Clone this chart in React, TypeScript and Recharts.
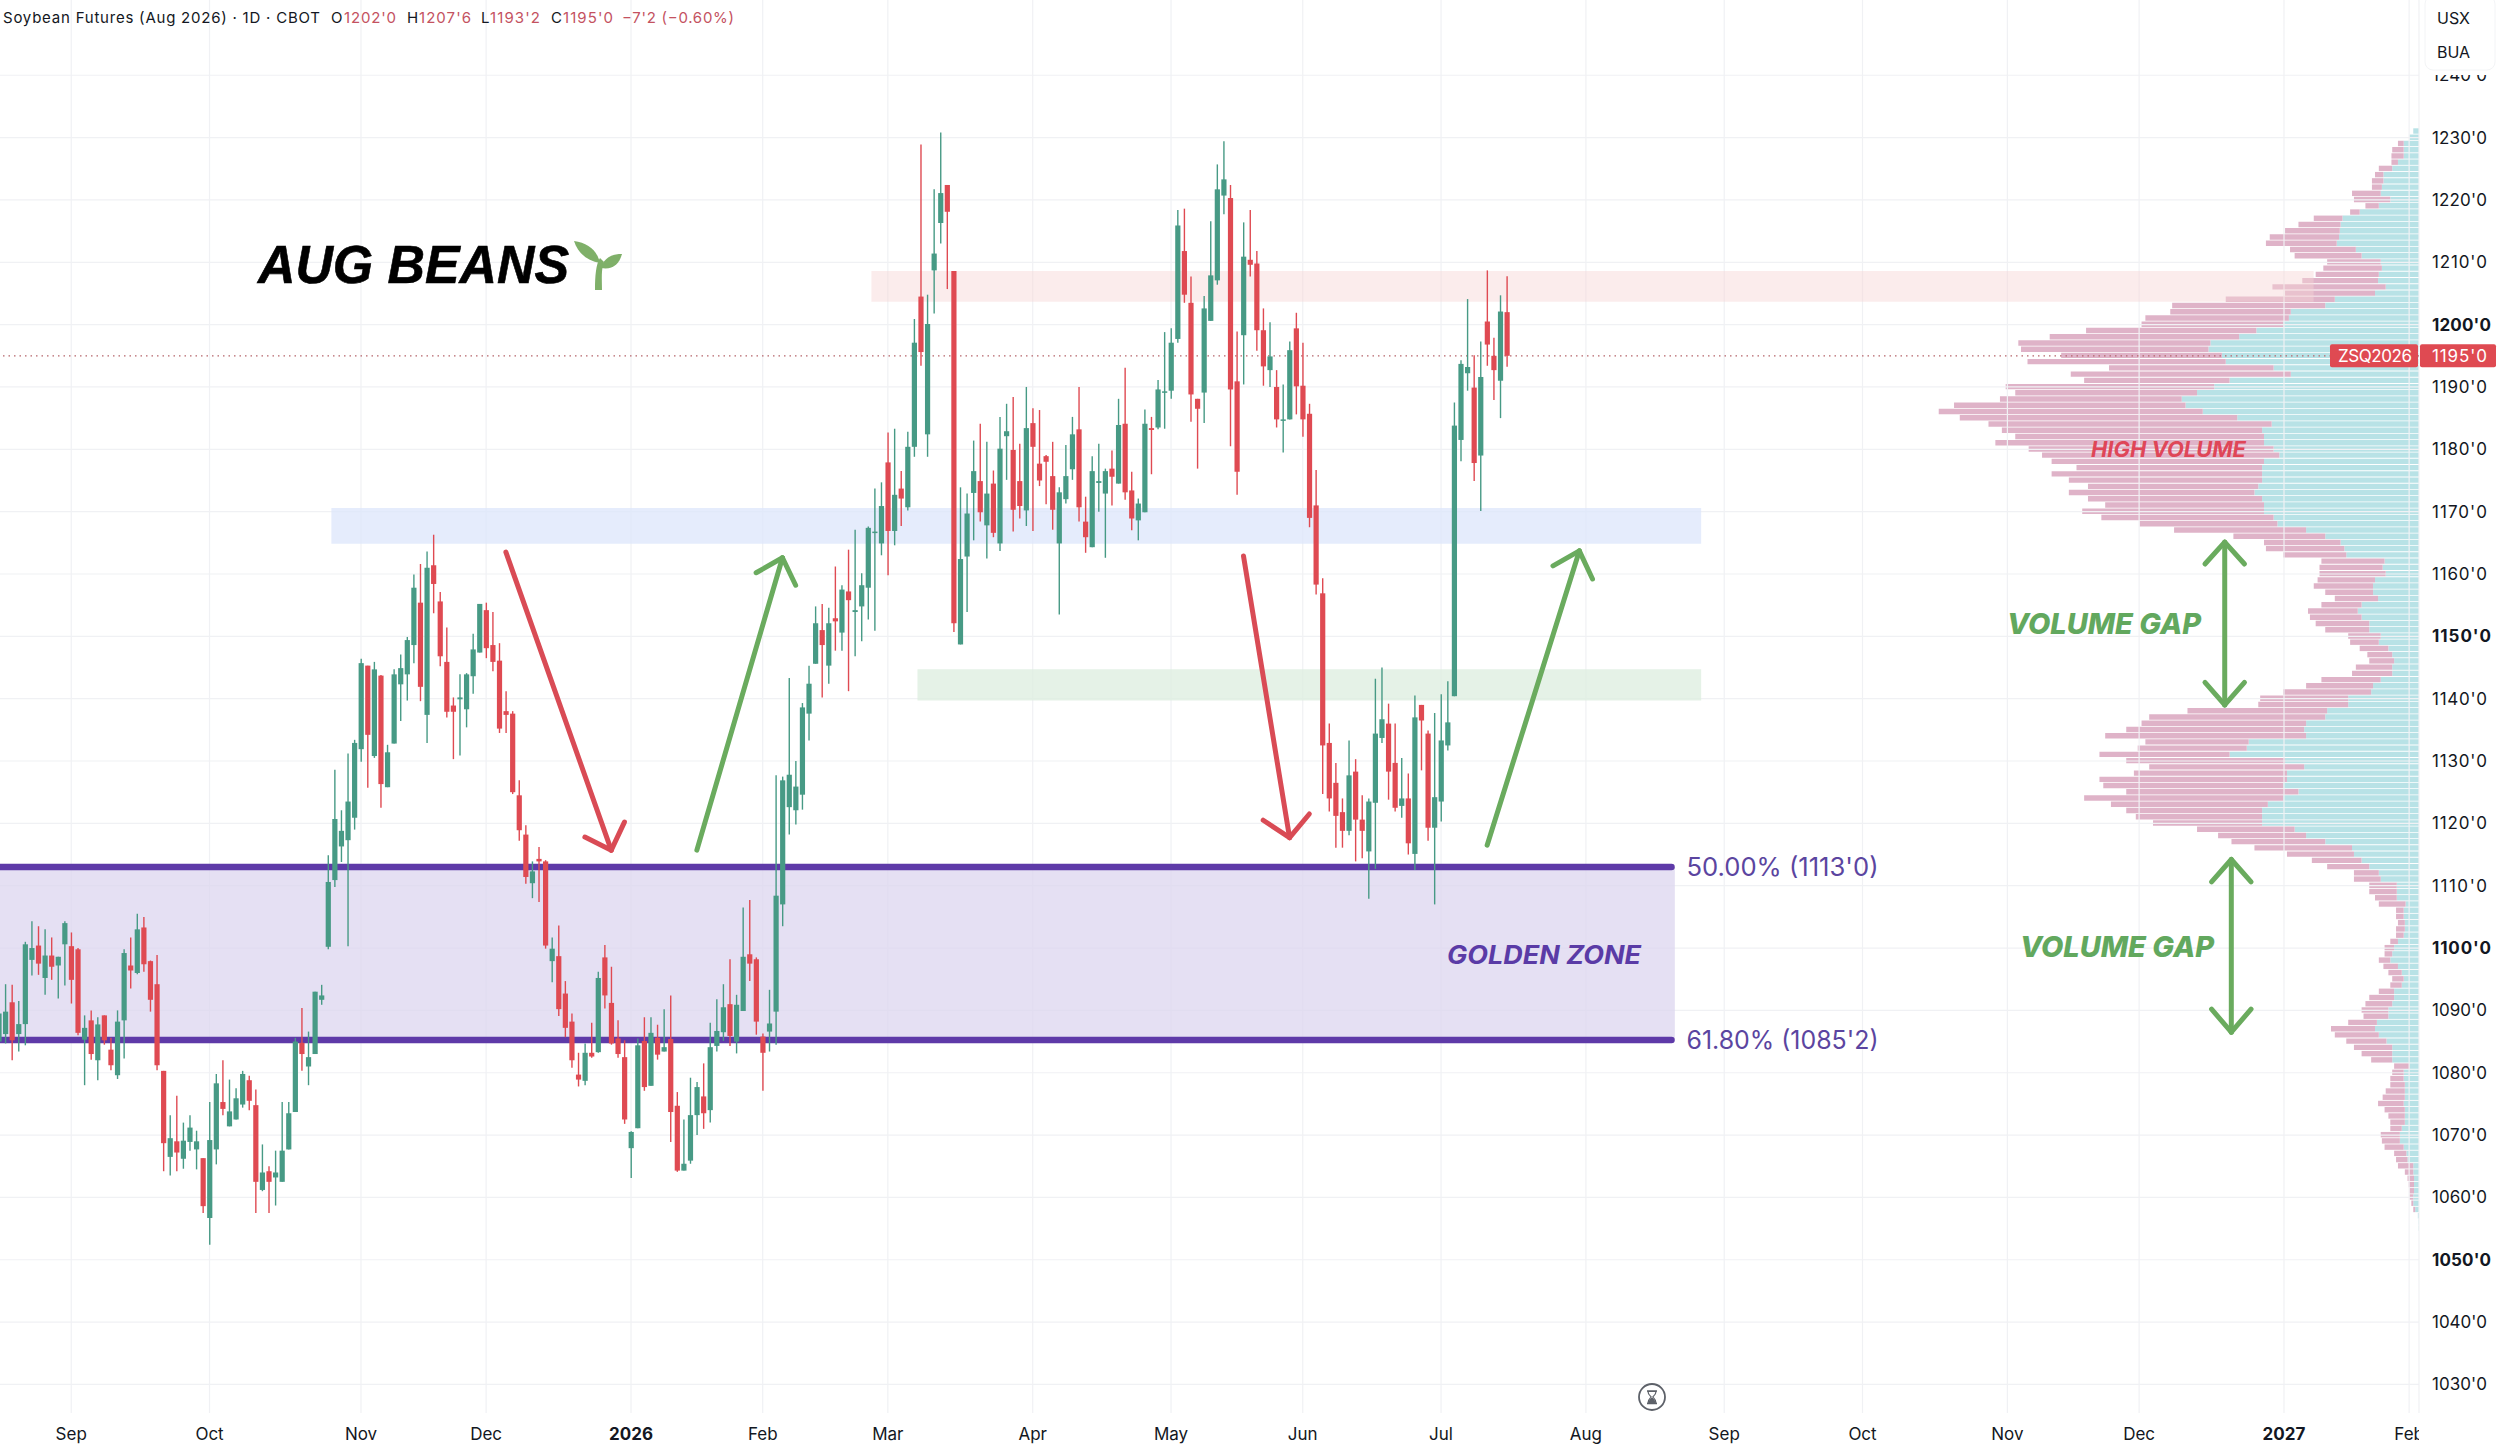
import React from 'react';
import { ComposedChart, Bar, XAxis, YAxis, CartesianGrid, ReferenceLine, ReferenceArea } from 'recharts';

const W = 2500, H = 1446;
const UP = '#479A85', DOWN = '#DF4A52', PURPLE = '#5E3AA8', ARROW_G = '#6AAB5E', ARROW_R = '#D94B55';
const FONT = 'Inter, "Liberation Sans", sans-serif';

const opens = [
1085,1086.2,1091.3,1086.2,1087.8,1098.1,1100.4,1095.2,1098.8,1097.2,
1100.6,1100.3,1099.8,1085.3,1088.4,1082,1089.2,1083.7,1079.6,1088.4,
1097.2,1096,1103.3,1097.9,1094.2,1080.3,1066.5,1069,1066.2,1068.9,
1067.7,1066.3,1056.7,1067.7,1075.3,1071.4,1072.5,1074.9,1078.8,1074.8,
1061.2,1064.2,1063.2,1062.5,1067.7,1073.7,1084.8,1081,1083,1091.7,
1100.2,1110.9,1116.3,1117.3,1120.9,1131.9,1145.3,1130.8,1143.7,1125.8,
1132.8,1142.3,1143.9,1148.6,1155.4,1137.4,1161.4,1155.6,1145.9,1138.9,
1139.9,1138.3,1143.6,1147.4,1154.2,1148.6,1146.1,1138,1137.6,1124.5,
1118.2,1110.4,1114.3,1113.9,1097.9,1098.7,1092.7,1088.2,1079.7,1078.7,
1083.2,1083.3,1098.5,1091.2,1085.5,1082.5,1067.9,1071.1,1085.1,1077.9,
1085.6,1083.4,1085.4,1074.7,1064.3,1065.9,1073.2,1076.2,1074,1084.3,
1086.5,1091,1085,1089.9,1099,1098.2,1085.8,1086.6,1089.8,1107,
1122.6,1122.1,1124.6,1137.6,1145.6,1151,1145.3,1152.9,1150.6,1157.2,
1153.9,1154.8,1157.8,1166.6,1164.9,1177.9,1166.9,1173.7,1170.7,1180.4,
1204.5,1182.4,1208.7,1216.3,1222.4,1208.6,1148.7,1162.8,1173,1174.9,
1167.8,1174.5,1164.9,1182.1,1179.9,1174.9,1170.2,1184.2,1177.7,1178.9,
1175.7,1164.9,1172,1176.8,1183.2,1168.4,1164.3,1174.6,1172.9,1176.9,
1174.5,1184.1,1173.4,1168.6,1169.9,1183.4,1183.5,1189.1,1189.4,1197.7,
1211.8,1203.5,1188.1,1189.1,1200.6,1207.1,1220.7,1220.3,1190.9,1198.3,
1210.4,1209.8,1199.1,1192.7,1190,1184.6,1184.8,1199.4,1190.2,1185.7,
1171,1156.9,1132.9,1126.5,1121.8,1118.8,1128.3,1120.6,1115.5,1123.3,
1133.7,1136,1129.7,1122.8,1124,1115.1,1139,1134.4,1119.3,1123.5,
1132.5,1140.4,1181.5,1192.2,1189.9,1179,1200.5,1195,1191,1202];
const highs = [
1090,1094.2,1094.1,1091.5,1101,1104.3,1103.5,1103,1101.7,1098.6,
1104.3,1102.5,1100,1089.2,1090,1088.9,1089.2,1085.6,1090,1099.8,
1101.7,1105.5,1105,1098,1098.9,1080.3,1073.2,1076.3,1072,1073.2,
1070.7,1066.3,1075.3,1079.8,1082,1078.9,1077.5,1080.3,1079.5,1077.3,
1068.5,1065,1067.5,1075.3,1075.3,1085.6,1090.4,1086.6,1093,1094.1,
1114.9,1128.6,1122.1,1131.2,1133.4,1146.4,1145.3,1145.9,1143.8,1132.6,
1144.7,1147.1,1149.9,1159.9,1161.6,1163.6,1166.3,1157.1,1151.4,1140.2,
1143.9,1144.1,1150.4,1155.2,1155.4,1153.9,1148.9,1141.2,1138,1126.9,
1119.7,1113.9,1116.2,1114.1,1101.7,1103.6,1094.7,1089.5,1083.2,1084.7,
1088,1096.2,1100.5,1097,1088.4,1085.2,1070.6,1085.5,1088.9,1088.9,
1087.7,1090.2,1092.4,1076.9,1072.5,1079.2,1078.5,1081.5,1088,1091.8,
1094.2,1098.2,1092.5,1106.5,1107.7,1098.5,1086.3,1093.3,1127.7,1127.5,
1143.3,1130,1139.3,1145.3,1154.8,1155.2,1154.6,1161.2,1158.2,1163.9,
1167.1,1160.1,1167.6,1173.7,1174.7,1182.7,1183.3,1176.5,1182.8,1200.9,
1228.9,1204.8,1221.7,1230.8,1222.4,1208.6,1173.9,1172.9,1181.4,1184.1,
1181.2,1176.6,1185.2,1187.3,1188.4,1180.9,1190,1186.6,1186.3,1179.1,
1181.2,1173.9,1180.7,1185.2,1190,1172.4,1178.9,1180.9,1176.9,1179.8,
1188.1,1193.1,1176.4,1172.1,1186.4,1185.2,1191.1,1198.8,1199.4,1218.4,
1218.6,1207.7,1188.1,1204.6,1216.6,1225.7,1229.4,1222.4,1198.9,1216.4,
1218.4,1211.8,1202.6,1200.4,1192.7,1190.4,1197.3,1201.9,1197.1,1187.3,
1176.7,1159.3,1136,1129.7,1124,1133.3,1130.3,1124.5,1124,1143.2,
1145,1139.2,1136,1130.5,1128,1140.5,1139,1134.9,1137.7,1140.7,
1142.8,1187.5,1194.3,1204.1,1195.1,1197.3,1208.7,1197.9,1204.7,1207.75];
const lows = [
1082,1084.7,1082,1083.4,1084.4,1095.6,1095.7,1092.5,1094.9,1091.9,
1094,1091.1,1086,1078,1082.1,1078.8,1084.5,1080.4,1079,1082.3,
1093.5,1095.8,1096.2,1089.8,1080.4,1064.2,1063.5,1064.2,1064.6,1067.5,
1064.5,1057.5,1052.4,1065.3,1073.2,1071.4,1072.5,1074.4,1074,1057.5,
1061,1057.5,1058.7,1062.5,1067.7,1073.7,1080.3,1078,1083,1090.9,
1099.8,1109.8,1113.8,1100.3,1119,1129.9,1125.7,1130.5,1122.5,1125.8,
1132.8,1136.4,1139.7,1145.7,1139.6,1132.9,1153.7,1145.2,1137,1130.3,
1130.9,1135.4,1140.8,1147.4,1146.5,1144.4,1134.5,1134.5,1124.7,1117.2,
1110.3,1108,1107.4,1099.9,1094.5,1089.1,1085.7,1080.8,1077.8,1078,
1082.4,1083.2,1090.3,1084.5,1082.4,1071.8,1063.1,1071.1,1077.1,1077.9,
1082.1,1083.4,1068.9,1064.1,1064.3,1065.4,1070,1071,1072,1083.4,
1085.1,1084.3,1083.1,1089.9,1094.7,1086.1,1077.1,1083.4,1084.5,1103.5,
1118.2,1119.8,1122.2,1133.3,1145.6,1140.2,1142.4,1147.7,1147.7,1141.2,
1146.8,1149.2,1152.7,1150.9,1163,1159.8,1164.6,1167.7,1170.2,1178.8,
1193.4,1178.8,1201.8,1213,1205.7,1150.7,1148.7,1153.9,1165.4,1168.4,
1162.5,1165.9,1163.7,1175.1,1166.8,1168.9,1167.7,1166.9,1174.1,1171.2,
1167.1,1153.5,1171.3,1175.1,1168.4,1163.4,1164.3,1170,1162.6,1171,
1174.5,1171.9,1167,1165.4,1169.9,1176,1183.2,1183.3,1188.1,1197.1,
1203.5,1184.4,1176.9,1184.2,1200.6,1206.4,1217.7,1180.5,1172.7,1190.4,
1207.7,1195.8,1190.2,1190,1183.5,1179.5,1184.8,1185.6,1182,1167.5,
1156.7,1124.7,1121.9,1116.1,1116.1,1118.1,1113.9,1114.4,1107.9,1112.7,
1132.9,1123.8,1121.9,1120.9,1115,1112.5,1128.5,1117.2,1107,1120.3,
1131.7,1140.4,1178.1,1189.4,1174.9,1170.1,1193.4,1187.9,1185,1193.25];
const closes = [
1089.5,1089.8,1085.2,1087.8,1100.6,1100,1097.5,1098.8,1097,1098.6,
1104,1094.9,1086.4,1087.2,1083,1087.75,1085.2,1081.2,1088.2,1099.2,
1096.4,1103,1097.4,1091.7,1081.2,1068.7,1069.5,1067.2,1069.1,1071.2,
1069,1058.6,1069.2,1078.3,1074.2,1073.8,1075.9,1079.8,1075.5,1062.5,
1064,1062.5,1064,1067.5,1073.5,1085,1083,1082.5,1093,1092.4,
1110.6,1120.7,1118.8,1123.5,1132.9,1145.7,1134.2,1144.7,1126.3,1131.4,
1143.9,1144.9,1149.4,1157.8,1141.9,1161,1158.4,1146.8,1137.9,1137.9,
1140.2,1143.9,1147.9,1155.2,1148.1,1145.9,1135.2,1137.4,1125,1118.9,
1111.4,1112.3,1113.9,1100.4,1099.9,1090.2,1087.2,1082,1078.9,1083.2,
1082.6,1095.2,1092.4,1084.7,1083,1072.5,1070.5,1084.4,1077.7,1086.4,
1082.9,1084.1,1073.7,1064.3,1065.4,1073.2,1077.7,1073.5,1084.1,1086.7,
1090.5,1085.9,1090.9,1098.6,1097.5,1088.2,1083.2,1087.9,1108.4,1126.9,
1127.8,1125.9,1138.6,1142.4,1152.1,1148.6,1152.1,1152.4,1157.5,1155.8,
1154.2,1158.2,1167.4,1166.8,1170.9,1166.9,1172.7,1172.1,1180.4,1197.1,
1195.6,1200.1,1211.4,1221.1,1218.1,1152.1,1162.4,1169.7,1176.5,1169.9,
1172.9,1166.6,1180.1,1182.9,1170.3,1170.9,1183.4,1180.4,1175,1178,
1170.3,1173.1,1175.7,1182.4,1170.7,1165.9,1176.5,1174.9,1176.5,1175.6,
1183.9,1173.1,1168.9,1171.3,1184.1,1183.1,1189.6,1189.3,1197.1,1215.9,
1204.8,1188.8,1186.5,1202.6,1207.9,1221.7,1223.3,1189.6,1176.4,1210.9,
1209.6,1199.1,1193.3,1194.9,1184.8,1184.8,1195.9,1190.1,1184.8,1169,
1158.3,1132.5,1124,1121.2,1118.8,1127.7,1120.6,1118.8,1123.5,1134.4,
1136.7,1128.3,1122.5,1124,1116.8,1137,1136.5,1119.3,1124.2,1133.3,
1136.2,1183.8,1193.7,1193.2,1177.8,1191.6,1196.8,1192.7,1202.1,1195];

const profileTopPrice = 1231;
const profileUp = [
15,25,40,40,40,55,70,93,93,97,100,75,105,155,200,205,207,209,215,165,150,100,97,105,107,87,115,220,245,335,
340,355,425,470,545,550,515,505,380,335,495,535,580,620,610,565,475,385,410,405,405,380,365,405,410,410,410,420,430,410,
405,405,380,370,295,245,205,195,190,90,95,87,115,120,120,107,150,160,150,130,130,100,105,80,70,65,70,70,100,120,
125,185,185,240,245,295,300,295,445,450,495,350,300,345,345,355,315,355,395,410,410,410,325,295,245,175,170,150,130,105,
100,58,58,58,35,40,40,37,37,40,55,65,70,75,55,45,40,45,65,65,70,80,80,110,115,105,85,70,70,70,
25,40,40,37,37,37,40,37,37,37,45,50,50,40,33,30,15,15,13,13,13,15,15,10,3,1,1];
const profileTotal = [
15,25,55,70,72,72,105,115,123,123,175,170,140,180,275,315,350,390,400,337,325,240,250,270,305,383,350,505,645,650,
715,725,870,965,1047,1040,935,1023,810,910,875,1080,1055,1095,1215,1255,1200,1125,1090,1055,1107,1020,985,960,895,960,915,865,915,865,
820,880,830,730,640,485,405,400,355,255,260,260,265,275,245,220,255,290,285,270,245,185,180,155,135,130,165,175,255,295,
355,415,420,605,705,725,765,820,715,735,835,765,705,745,835,825,765,875,805,765,740,695,580,525,490,430,345,280,240,170,
170,130,130,115,105,60,60,55,60,60,75,90,90,105,93,80,70,75,105,130,140,150,145,185,230,220,190,170,150,125,
65,70,75,75,87,95,107,90,80,75,75,100,97,90,65,60,55,37,30,27,25,25,20,15,3,1,1];

const monthTickIdx = [11,32,55,74,96,116,135,157,178,198,219,241,262,283,305,325,347,366];
const monthTickLabels = ['Sep','Oct','Nov','Dec','2026','Feb','Mar','Apr','May','Jun','Jul','Aug','Sep','Oct','Nov','Dec','2027','Feb'];
const priceTicks = [1030,1040,1050,1060,1070,1080,1090,1100,1110,1120,1130,1140,1150,1160,1170,1180,1190,1200,1210,1220,1230,1240];
const boldPrices = [1050,1100,1150,1200];
const lastPrice = 1195;

const SLOTS = 368;
const candles = Array.from({ length: SLOTS }, (_, i) => ({
  i,
  o: opens[i] ?? null, h: highs[i] ?? null, l: lows[i] ?? null, c: closes[i] ?? null,
}));
const profile = profileUp.map((u, k) => ({
  level: profileTopPrice - k,
  up: u,
  down: Math.max(0, profileTotal[k] - u),
}));

const Candle = (p: any) => {
  const d = p.payload;
  if (!d || d.h == null) return null;
  const top = Math.min(p.y, p.y + p.height);
  const hh = Math.abs(p.height);
  const k = hh / (d.h - d.l);
  const Y = (v: number) => top + (d.h - v) * k;
  const cx = p.x + p.width / 2;
  const up = d.c >= d.o;
  const col = up ? UP : DOWN;
  const bt = Y(Math.max(d.o, d.c));
  const bh = Math.max(1.5, Math.abs(d.o - d.c) * k);
  return (
    <g>
      <line x1={cx} x2={cx} y1={top} y2={top + hh} stroke={col} strokeWidth={1.4} />
      <rect x={cx - 2.6} y={bt} width={5.2} height={bh} fill={col} />
    </g>
  );
};

const PriceTick = (p: any) => {
  const v = p.payload.value;
  if (v === lastPrice) {
    return (
      <g>
        <rect x={2330} y={p.y - 11.5} width={88} height={23} rx={2} fill={DOWN} />
        <rect x={2420} y={p.y - 11.5} width={76} height={23} rx={2} fill={DOWN} />
        <text x={2338} y={p.y + 6} fontFamily={FONT} fontSize={17} fill="#fff" textLength={74}>ZSQ2026</text>
        <text x={2432} y={p.y + 6} fontFamily={FONT} fontSize={17} fill="#fff" textLength={55}>1195'0</text>
      </g>
    );
  }
  const bold = boldPrices.includes(v);
  return (
    <text x={2432} y={p.y + 6} fontFamily={FONT} fontSize={17} fontWeight={bold ? 700 : 400} fill="#131722" textLength={bold ? 59 : 55}>
      {`${v}'0`}
    </text>
  );
};

const TimeTick = (p: any) => {
  const idx = monthTickIdx.indexOf(Number(p.payload.value));
  const label = monthTickLabels[idx];
  const bold = /^\d+$/.test(label);
  return (
    <text x={p.x} y={1440} textAnchor="middle" fontFamily={FONT} fontSize={17} fontWeight={bold ? 700 : 400} fill="#131722" clipPath="url(#plotClip)">
      {label}
    </text>
  );
};

const seg = (a: number[], b: number[]) => [{ x: a[0], y: a[1] }, { x: b[0], y: b[1] }] as any;
const Arrow = (pts: number[][], color: string, w = 5) =>
  pts.slice(0, -1).map((pt, n) => (
    <ReferenceLine key={color + pt.join() + n} segment={seg(pt, pts[n + 1])} stroke={color} strokeWidth={w} strokeLinecap="round" ifOverflow="visible" />
  ));

export default function App() {
  return (
    <div style={{ position: 'absolute', left: 0, top: 0, width: W, height: H, background: '#fff', overflow: 'hidden' }}>
      <div style={{ position: 'absolute', left: 0, top: 0 }}>
        <ComposedChart width={W} height={H} layout="vertical" data={profile} margin={{ top: 128.3, bottom: 214.3, left: 0, right: 81 }} barCategoryGap={0}>
          <XAxis type="number" hide reversed domain={[0, 6321]} allowDataOverflow />
          <YAxis type="category" dataKey="level" hide />
          <Bar dataKey="up" stackId="v" fill="#B8E2E6" barSize={5.4} isAnimationActive={false} />
          <Bar dataKey="down" stackId="v" fill="#DFB3C8" barSize={5.4} isAnimationActive={false} />
        </ComposedChart>
      </div>
      <div style={{ position: 'absolute', left: 0, top: 0 }}>
        <ComposedChart width={W} height={H} data={candles} margin={{ top: 0, bottom: 0, left: -4.5, right: 0 }} barCategoryGap={0}>
          <defs>
            <clipPath id="plotClip"><rect x={0} y={0} width={2419} height={H} /></clipPath>
          </defs>
          <CartesianGrid stroke="#F0F1F4" strokeWidth={1.2} horizontalValues={priceTicks} />
          <XAxis dataKey="i" type="category" ticks={monthTickIdx} interval={0} axisLine={false} tickLine={false} tick={<TimeTick />} height={33} />
          <YAxis orientation="right" type="number" domain={[1025.42, 1252.07]} allowDataOverflow ticks={[...priceTicks, lastPrice]} interval={0} axisLine={false} tickLine={false} tick={<PriceTick />} width={81} />

          <ReferenceArea x1={133} x2={351} y1={1203.65} y2={1208.6} fill="#F6D5D5" fillOpacity={0.45} stroke="none" ifOverflow="visible" />
          <ReferenceArea x1={51} x2={258} y1={1164.85} y2={1170.6} fill="#DCE5FB" fillOpacity={0.75} stroke="none" ifOverflow="visible" />
          <ReferenceArea x1={140} x2={258} y1={1139.7} y2={1144.7} fill="#DCEEDF" fillOpacity={0.75} stroke="none" ifOverflow="visible" />
          <ReferenceArea x1={0} x2={254} y1={1085.25} y2={1113} fill="#DCD6EF" fillOpacity={0.75} stroke="none" ifOverflow="visible" />
          <ReferenceLine y={lastPrice} stroke="#B5646A" strokeDasharray="1.5 4" strokeWidth={1.2} segment={seg([0, lastPrice], [353, lastPrice])} ifOverflow="visible" {...({ zIndex: 250 } as any)} />
          <ReferenceLine segment={seg([0, 1113], [254, 1113])} stroke={PURPLE} strokeWidth={6.5} strokeLinecap="round" ifOverflow="visible" {...({ zIndex: 250 } as any)} />
          <ReferenceLine segment={seg([0, 1085.25], [254, 1085.25])} stroke={PURPLE} strokeWidth={6.5} strokeLinecap="round" ifOverflow="visible" {...({ zIndex: 250 } as any)} />

          <Bar dataKey={(d: any) => (d.h == null ? null : [d.l, d.h])} barSize={5} shape={<Candle />} isAnimationActive={false} />

          {Arrow([[77, 1163.5], [93, 1115.7]], ARROW_R)}
          {Arrow([[89, 1117.8], [93, 1115.7], [95, 1120.2]], ARROW_R)}
          {Arrow([[106, 1115.7], [119, 1162.6]], ARROW_G)}
          {Arrow([[115, 1160.2], [119, 1162.6], [121, 1158.2]], ARROW_G)}
          {Arrow([[189, 1162.9], [196, 1117.7]], ARROW_R)}
          {Arrow([[192, 1120.5], [196, 1117.7], [199, 1121.5]], ARROW_R)}
          {Arrow([[226, 1116.5], [240, 1163.7]], ARROW_G)}
          {Arrow([[236, 1161.3], [240, 1163.7], [242, 1159.2]], ARROW_G)}
          {Arrow([[338, 1165.1], [338, 1139]], ARROW_G)}
          {Arrow([[335, 1161.6], [338, 1165.1], [341, 1161.6]], ARROW_G)}
          {Arrow([[335, 1142.6], [338, 1139], [341, 1142.6]], ARROW_G)}
          {Arrow([[339, 1114.2], [339, 1086.5]], ARROW_G)}
          {Arrow([[336, 1110.6], [339, 1114.2], [342, 1110.6]], ARROW_G)}
          {Arrow([[336, 1090.2], [339, 1086.5], [342, 1090.2]], ARROW_G)}
        </ComposedChart>
      </div>
      <svg width={W} height={H} style={{ position: 'absolute', left: 0, top: 0, pointerEvents: 'none' }}>
        <g fontFamily={FONT} fontSize={15}>
          <text x={3} y={23} fill="#131722" textLength={317}>Soybean Futures (Aug 2026) · 1D · CBOT</text>
          <text x={331} y={23} fill="#131722">O</text>
          <text x={344} y={23} fill="#C4525F" textLength={52}>1202'0</text>
          <text x={407} y={23} fill="#131722">H</text>
          <text x={419} y={23} fill="#C4525F" textLength={52}>1207'6</text>
          <text x={481} y={23} fill="#131722">L</text>
          <text x={490} y={23} fill="#C4525F" textLength={50}>1193'2</text>
          <text x={551} y={23} fill="#131722">C</text>
          <text x={563} y={23} fill="#C4525F" textLength={50}>1195'0</text>
          <text x={622} y={23} fill="#C4525F" textLength={112}>−7'2 (−0.60%)</text>
        </g>
        <text x={258} y={283} fontFamily='"Liberation Sans", Arial, sans-serif' fontStyle="italic" fontWeight={700} fontSize={53} fill="#000" stroke="#000" strokeWidth={0.6} textLength={311} lengthAdjust="spacingAndGlyphs">AUG BEANS</text>
        <g fill="#7FB069" stroke="none">
          <path d="M595 290 L602 290 C602 278 601 270 604 262 L600 258 C596 264 595 276 595 290 Z" />
          <path d="M600 263 C597 250 588 243 574 241 C578 253 587 261 600 263 Z" />
          <path d="M601 268 C604 258 611 254 622 254 C619 265 612 270 601 268 Z" />
        </g>
        <text x={1447} y={964} fontFamily={FONT} fontStyle="italic" fontWeight={700} fontSize={25} fill="#5A3BA6" textLength={194} lengthAdjust="spacingAndGlyphs">GOLDEN ZONE</text>
        <text x={1686.5} y={876} fontFamily={FONT} fontSize={25} fill="#5B45A0" textLength={192} lengthAdjust="spacingAndGlyphs">50.00% (1113'0)</text>
        <text x={1686.5} y={1049} fontFamily={FONT} fontSize={25} fill="#5B45A0" textLength={192} lengthAdjust="spacingAndGlyphs">61.80% (1085'2)</text>
        <text x={2091} y={457} fontFamily={FONT} fontStyle="italic" fontWeight={700} fontSize={21} fill="#DF4658" textLength={155} lengthAdjust="spacingAndGlyphs">HIGH VOLUME</text>
        <text x={2007} y={634} fontFamily={FONT} fontStyle="italic" fontWeight={800} fontSize={29} fill="#62A85E" textLength={194} lengthAdjust="spacingAndGlyphs">VOLUME GAP</text>
        <text x={2020} y={957} fontFamily={FONT} fontStyle="italic" fontWeight={800} fontSize={29} fill="#62A85E" textLength={194} lengthAdjust="spacingAndGlyphs">VOLUME GAP</text>
        <g>
          <rect x={2425} y={-4} width={70} height={79} fill="#fff" />
          <rect x={2425} y={-4} width={70} height={74} rx={8} fill="#fff" stroke="#F3F4F6" />
          <text x={2437} y={24} fontFamily={FONT} fontSize={16} fill="#131722">USX</text>
          <text x={2437} y={58} fontFamily={FONT} fontSize={16} fill="#131722">BUA</text>
        </g>
        <g>
          <circle cx={1652} cy={1397} r={13} fill="#fff" stroke="#5d6169" strokeWidth={1.8} />
          <path d="M1647 1391 h10 M1647 1403.5 h10" fill="none" stroke="#5d6169" strokeWidth={1.6} />
          <path d="M1648 1391.5 h8 c0 3 -2.5 4.5 -3.2 5.5 c0.8 1 3.2 2.5 3.2 6 h-8 c0 -3.5 2.4 -5 3.2 -6 c-0.7 -1 -3.2 -2.5 -3.2 -5.5 Z" fill="#fff" stroke="#5d6169" strokeWidth={1.2} />
          <path d="M1648.5 1403 c0 -3 2.3 -4.5 3.5 -5.5 c1.2 1 3.5 2.5 3.5 5.5 Z" fill="#5d6169" />
        </g>
      </svg>
    </div>
  );
}
